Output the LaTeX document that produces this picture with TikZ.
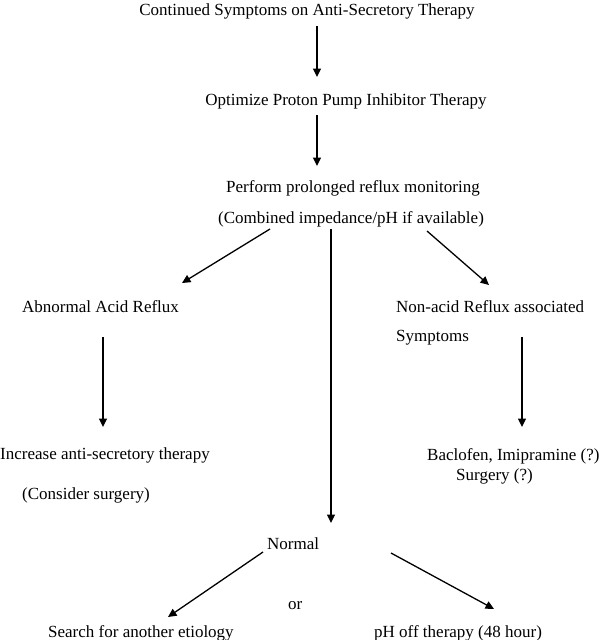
\documentclass[tikz,border=0pt]{standalone}
\usepackage{fontspec}
\setmainfont{Liberation Serif}
\usetikzlibrary{arrows.meta}

\tikzset{
  lbl/.style={inner sep=0pt, font=\fontsize{17}{20}\selectfont},
  arr/.style={-{Triangle[length=8.5pt,width=8pt]}, line width=1.3pt}
}

\begin{document}
\begin{tikzpicture}[x=1pt, y=-1pt]
  \useasboundingbox (0,0) rectangle (600,640);
  % steps down the middle
  \node[lbl, anchor=base] (cont) at (307,15) {Continued Symptoms on Anti-Secretory Therapy};
  \node[lbl, anchor=base] (ppi) at (346,105) {Optimize Proton Pump Inhibitor Therapy};
  \node[lbl, anchor=base] (mon) at (353,192) {Perform prolonged reflux monitoring};
  \node[lbl, anchor=base] (imp) at (351,223) {(Combined impedance/pH if available)};
  % the three outcomes
  \node[lbl, anchor=base west] (acid) at (22,312) {Abnormal Acid Reflux};
  \node[lbl, anchor=base west] (nonacid) at (396,312) {Non-acid Reflux associated};
  \node[lbl, anchor=base west] (symp) at (396,341) {Symptoms};
  \node[lbl, anchor=base west] (incr) at (0,459) {Increase anti-secretory therapy};
  \node[lbl, anchor=base west] (surg) at (22,499) {(Consider surgery)};
  \node[lbl, anchor=base west] (bacl) at (427,460) {Baclofen, Imipramine (?)};
  \node[lbl, anchor=base west] (bsurg) at (456,480) {Surgery (?)};
  \node[lbl, anchor=base west] (norm) at (267,549) {Normal};
  \node[lbl, anchor=base west] (or) at (288,609) {or};
  \node[lbl, anchor=base west] (etio) at (48,637) {Search for another etiology};
  \node[lbl, anchor=base west] (phoff) at (374,637) {pH off therapy (48 hour)};

  % arrow ends
  \coordinate (cont-s) at (317,26);   \coordinate (ppi-n) at (317,77);
  \coordinate (ppi-s) at (317,115);   \coordinate (mon-n) at (317,166);
  \coordinate (imp-l) at (270,229);   \coordinate (acid-n) at (182,283);
  \coordinate (imp-m) at (331,229);   \coordinate (norm-n) at (331,523);
  \coordinate (imp-r) at (427,231);   \coordinate (nonacid-n) at (489,285);
  \coordinate (acid-s) at (103,337);  \coordinate (incr-n) at (103,427);
  \coordinate (symp-s) at (522,337);  \coordinate (bacl-n) at (522,427);
  \coordinate (norm-l) at (263,552);  \coordinate (etio-n) at (168,617);
  \coordinate (norm-r) at (391,553);  \coordinate (phoff-n) at (494,609);

  \draw[arr] (cont-s) -- (ppi-n);
  \draw[arr] (ppi-s) -- (mon-n);
  \draw[arr] (imp-l) -- (acid-n);
  \draw[arr] (imp-m) -- (norm-n);
  \draw[arr] (imp-r) -- (nonacid-n);
  \draw[arr] (acid-s) -- (incr-n);
  \draw[arr] (symp-s) -- (bacl-n);
  \draw[arr] (norm-l) -- (etio-n);
  \draw[arr] (norm-r) -- (phoff-n);
\end{tikzpicture}
\end{document}
